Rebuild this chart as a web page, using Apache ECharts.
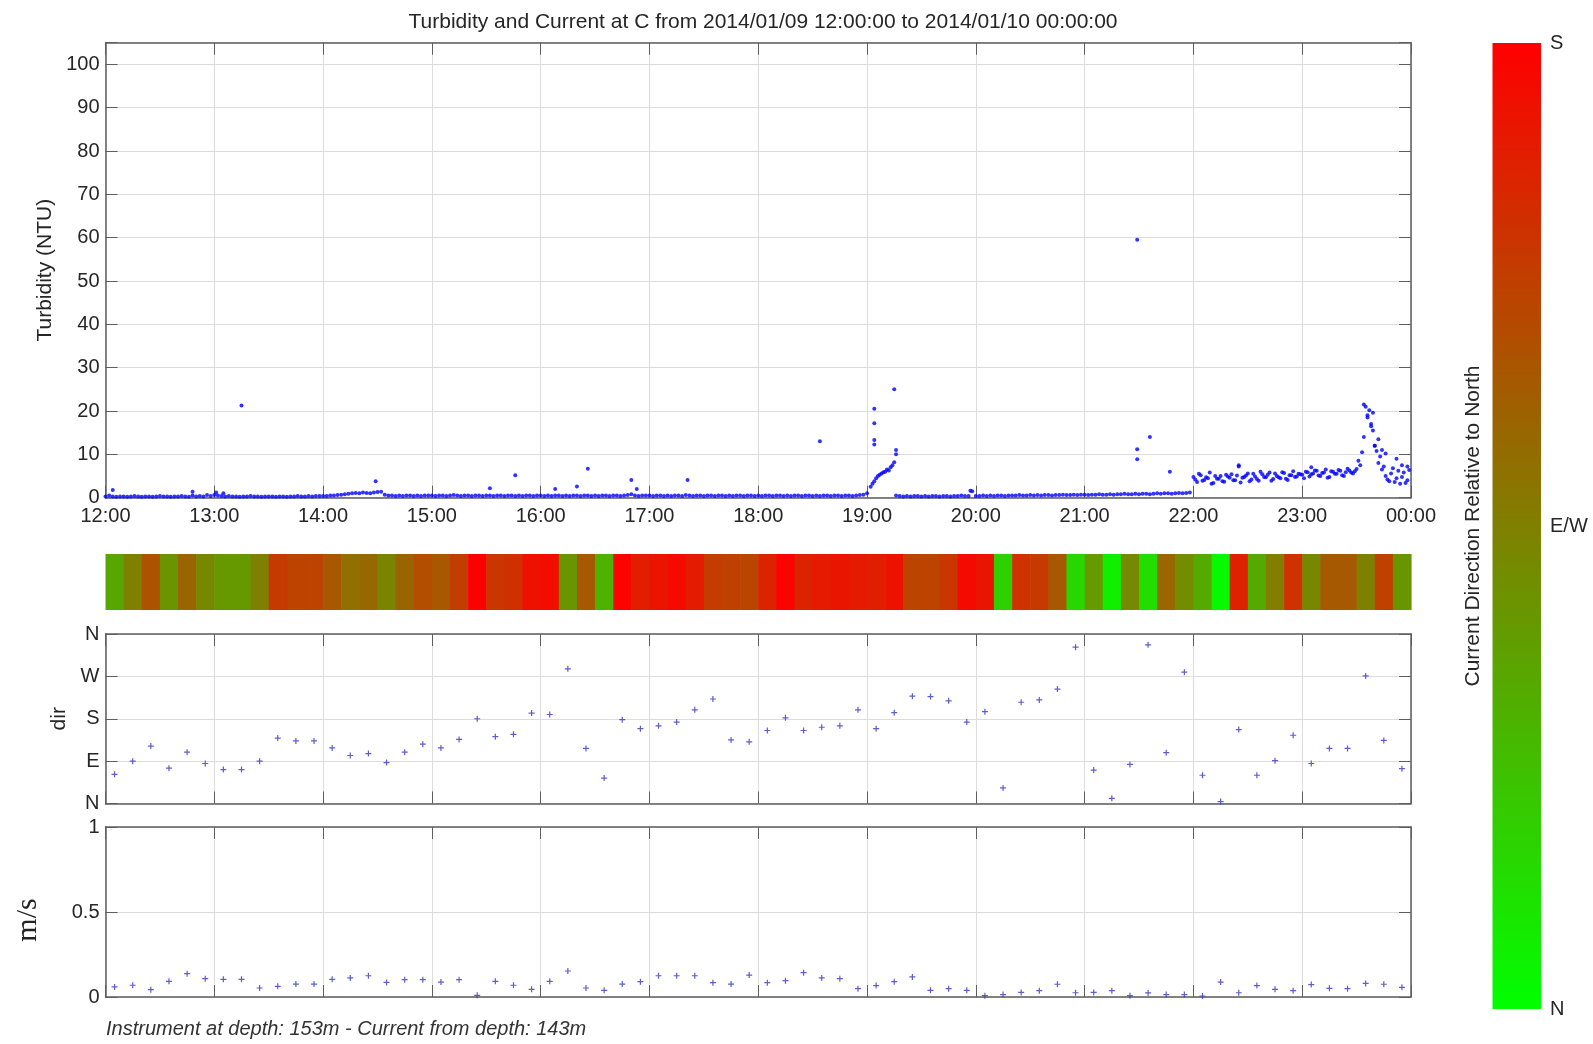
<!DOCTYPE html>
<html>
<head>
<meta charset="utf-8">
<script src="https://cdn.jsdelivr.net/npm/echarts@6/dist/echarts.min.js"></script>
<style>
html,body{margin:0;padding:0;background:#fff;}
#chart{width:1593px;height:1044px;}
</style>
</head>
<body>
<div id="chart"></div>
<script>
// ---------------- DATA ----------------
const titleText = 'Turbidity and Current at C from 2014/01/09 12:00:00 to 2014/01/10 00:00:00';
const footerText = 'Instrument at depth: 153m - Current from depth: 143m';
const hourLabels = ['12:00','13:00','14:00','15:00','16:00','17:00','18:00','19:00','20:00','21:00','22:00','23:00','00:00'];
const dirTickLabels = ['N','E','S','W','N'];
const colorbarLabels = ['N','E/W','S'];

// Turbidity (NTU), every 2 minutes from 12:00
const turbBase = [
 0.3,0.5,0.3,0.2,0.3,0.3,0.2,0.3,0.4,0.3, 0.2,0.3,0.3,0.2,0.3,0.4,0.3,0.3,0.2,0.3, 0.3,0.4,0.3,0.2,0.5,0.3,0.4,0.3,0.6,0.4,
 0.6,0.5,0.4,0.3,0.4,0.3,0.3,0.2,0.3,0.3, 0.4,0.3,0.3,0.2,0.3,0.3,0.3,0.2,0.3,0.3, 0.2,0.3,0.3,0.4,0.3,0.3,0.4,0.3,0.4,0.4,
 0.4,0.4,0.5,0.5,0.6,0.7,0.8,0.9,1.0,1.1, 1.0,1.2,1.1,1.0,1.2,1.3,1.4,0.7,0.5,0.5, 0.4,0.5,0.4,0.5,0.5,0.4,0.5,0.4,0.5,0.5,
 0.5,0.4,0.5,0.5,0.4,0.5,0.6,0.5,0.4,0.5, 0.5,0.4,0.5,0.5,0.4,0.5,0.5,0.4,0.5,0.5, 0.4,0.5,0.5,0.4,0.5,0.4,0.5,0.5,0.4,0.5,
 0.5,0.4,0.5,0.4,0.5,0.5,0.4,0.5,0.4,0.5, 0.5,0.4,0.5,0.5,0.4,0.5,0.4,0.5,0.5,0.4, 0.5,0.5,0.4,0.5,0.6,0.8,0.5,0.4,0.5,0.5,
 0.5,0.4,0.5,0.5,0.4,0.5,0.4,0.5,0.5,0.4, 0.6,0.5,0.4,0.5,0.5,0.4,0.5,0.5,0.4,0.5, 0.5,0.4,0.5,0.4,0.5,0.5,0.4,0.5,0.5,0.4,
 0.5,0.4,0.5,0.5,0.4,0.5,0.5,0.4,0.5,0.4, 0.5,0.5,0.4,0.5,0.5,0.4,0.5,0.4,0.5,0.5, 0.4,0.5,0.5,0.4,0.5,0.5,0.4,0.5,0.6,0.7,
 1.0,2.5,3.8,5.0,5.6,6.0,6.3,7.5,0.5,0.4, 0.3,0.4,0.3,0.4,0.4,0.3,0.4,0.3,0.4,0.4, 0.3,0.4,0.4,0.3,0.4,0.4,0.5,0.4,0.4,1.5,
 0.4,0.4,0.5,0.4,0.5,0.4,0.5,0.5,0.4,0.5, 0.5,0.5,0.6,0.5,0.5,0.6,0.5,0.6,0.5,0.6, 0.6,0.5,0.6,0.6,0.7,0.6,0.6,0.7,0.6,0.7,
 0.7,0.6,0.7,0.7,0.8,0.7,0.7,0.8,0.7,0.8, 0.8,0.9,0.8,0.8,0.9,0.8,0.9,0.9,0.8,0.9, 1.0,0.9,1.0,1.0,0.9,1.0,1.1,1.0,1.1,1.2,
 4.8,3.6,5.2,4.1,4.5,3.2,5.0,4.4,3.8,5.3, 4.6,4.0,5.1,3.5,4.8,5.6,4.2,4.9,3.9,5.4, 4.7,5.8,4.3,5.0,4.5,5.7,4.1,5.2,4.8,5.5,
 5.3,6.0,4.9,5.6,6.2,5.0,5.8,4.6,6.1,5.5, 6.4,5.2,5.9,6.3,5.6,6.6,7.5,14.0,19.0,17.0, 12.0,8.0,6.5,5.0,3.8,6.8,4.5,3.2,5.8,4.0
];
// Turbidity on the odd minutes from 22:01 to 23:59
const turbExtra = [
 4.2,5.5,3.9,4.7,5.8,3.4,4.4,5.0,3.7,4.9, 5.4,4.0,7.2,4.6,5.1,3.8,5.5,4.3,6.0,4.8, 5.3,3.9,5.6,4.7,5.9,4.4,5.2,6.1,4.9,5.4,
 4.5,5.9,5.4,6.3,5.1,5.7,6.5,4.8,6.0,5.5, 6.2,5.0,6.7,5.8,6.1,8.5,10.5,21.0,20.2,15.5, 10.8,9.5,7.2,4.2,5.6,3.6,6.2,4.8,3.4,6.4
];
// Isolated turbidity readings
const turbOutliers = [
 ['12:04',1.8],['12:48',1.4],['13:01',1.2],['13:05',1.0],['13:15',21.3],['14:29',3.8],['15:32',2.2],['15:46',5.2],
 ['16:08',2.0],['16:20',2.6],['16:26',6.7],['16:50',4.1],['16:53',2.0],['17:21',4.1],['18:34',13.0],
 ['19:03',3.2],['19:05',4.5],['19:07',5.3],['19:09',5.9],['19:11',6.5],['19:13',7.0],['19:15',8.2],
 ['19:04',20.5],['19:04',17.2],['19:04',13.3],['19:04',12.3],['19:15',25.0],['19:16',11.0],['19:16',10.0],['19:57',1.6],
 ['21:29',59.5],['21:29',11.2],['21:29',8.9],['21:36',14.0],['21:47',6.0],['22:25',7.5],['23:05',7.0],
 ['23:34',21.5],['23:36',18.5],['23:38',16.5],['23:39',19.6],['23:40',12.0],['23:42',13.5],['23:44',11.0],
 ['23:46',10.2],['23:52',9.0],['23:55',7.5],['23:58',7.2]
];

// 10-minute current samples
const sampleTimes = [
 '12:05','12:15','12:25','12:35','12:45','12:55','13:05','13:15','13:25','13:35','13:45','13:55',
 '14:05','14:15','14:25','14:35','14:45','14:55','15:05','15:15','15:25','15:35','15:45','15:55',
 '16:05','16:15','16:25','16:35','16:45','16:55','17:05','17:15','17:25','17:35','17:45','17:55',
 '18:05','18:15','18:25','18:35','18:45','18:55','19:05','19:15','19:25','19:35','19:45','19:55',
 '20:05','20:15','20:25','20:35','20:45','20:55','21:05','21:15','21:25','21:35','21:45','21:55',
 '22:05','22:15','22:25','22:35','22:45','22:55','23:05','23:15','23:25','23:35','23:45','23:55'
];
// Current direction, degrees from North
const dirValues = [
 62,90,122,75,109,85,72,72,90,139, 133,133,118,102,106,87,109,126,118,136,
 180,142,147,192,189,286,117,54,178,159, 165,173,199,222,135,131,155,182,155,162,
 165,199,159,193,228,227,218,173,195,33, 215,220,243,332,71,11,83,337,108,279,
 60,4,157,60,91,145,85,117,117,271,134,74
];
// Current speed, m/s
const speedValues = [
 0.059,0.069,0.043,0.092,0.137,0.108,0.104,0.104,0.053,0.063,
 0.076,0.076,0.104,0.112,0.125,0.086,0.102,0.102,0.088,0.102,
 0.010,0.092,0.069,0.045,0.092,0.153,0.053,0.039,0.076,0.090,
 0.125,0.125,0.125,0.084,0.076,0.129,0.084,0.096,0.143,0.112,
 0.108,0.049,0.067,0.090,0.118,0.039,0.049,0.039,0.008,0.014,
 0.027,0.037,0.075,0.025,0.027,0.037,0.008,0.024,0.014,0.014,
 0.006,0.088,0.025,0.067,0.045,0.037,0.073,0.051,0.049,0.080,
 0.075,0.057
];

// ---------------- BUILD ----------------
const toH = s => { const p = s.split(':'); return +p[0] + (+p[1]) / 60; };
const turbBaseData = turbBase.map((v, i) => [12 + i * 2 / 60, v]);
const turbExtraData = turbExtra.map((v, i) => [22 + (1 + 2 * i) / 60, v]);
const turbOutData = turbOutliers.map(d => [toH(d[0]), d[1]]);
const sampleH = sampleTimes.map(toH);
const dirData = dirValues.map((v, i) => [sampleH[i], v]);
const speedData = speedValues.map((v, i) => [sampleH[i], v]);
const stripData = dirValues.map((v, i) => [sampleH[i], 0.5, v <= 180 ? v : 360 - v]);

const FONT = '"Liberation Sans", Arial, Helvetica, sans-serif';
const TXT = '#262626';
const FRAME = '#5e5e5e';
const GRIDC = '#dcdcdc';
const L = 105.5, W = 1305.5;

function xAx(gridIndex, position, extra) {
  return Object.assign({
    type: 'value', gridIndex: gridIndex, position: position, min: 12, max: 24, interval: 1,
    axisLine: { show: true, onZero: false, lineStyle: { color: FRAME, width: 1.5 } },
    axisTick: { show: true, inside: true, length: 12, lineStyle: { color: FRAME, width: 1 } },
    axisLabel: { show: false },
    splitLine: { show: false }
  }, extra || {});
}
function yAx(gridIndex, position, min, max, interval, extra) {
  return Object.assign({
    type: 'value', gridIndex: gridIndex, position: position, min: min, max: max, interval: interval,
    axisLine: { show: true, onZero: false, lineStyle: { color: FRAME, width: 1.5 } },
    axisTick: { show: true, inside: true, length: 12, lineStyle: { color: FRAME, width: 1 } },
    axisLabel: { show: false },
    splitLine: { show: false }
  }, extra || {});
}
const lab = (fmt, margin) => ({ show: true, formatter: fmt, color: TXT, fontSize: 20, fontFamily: FONT, margin: margin });
const split = { show: true, lineStyle: { color: GRIDC, width: 1 } };
const nameStyle = { color: TXT, fontSize: 21, fontFamily: FONT };

const plusSym = 'path://M2,0H3V2H5V3H3V5H2V3H0V2H2Z';

const option = {
  backgroundColor: '#ffffff',
  animation: false,
  title: {
    text: titleText, left: 758, top: 7, textAlign: 'center',
    textStyle: { fontSize: 21, fontWeight: 'normal', color: TXT, fontFamily: FONT }
  },
  grid: [
    { left: L, top: 42.7, width: W, height: 455 },
    { left: L, top: 554, width: W, height: 56 },
    { left: L, top: 634, width: W, height: 169.5 },
    { left: L, top: 827, width: W, height: 170 },
    { left: 1492.5, top: 43, width: 48.5, height: 966 }
  ],
  xAxis: [
    xAx(0, 'bottom', { axisLabel: lab(v => hourLabels[Math.round(v - 12)], 9), splitLine: split }),
    xAx(0, 'top'),
    xAx(1, 'bottom', { show: false }),
    xAx(2, 'bottom', { splitLine: split }),
    xAx(2, 'top'),
    xAx(3, 'bottom', { splitLine: split }),
    xAx(3, 'top'),
    { type: 'category', gridIndex: 4, data: [''], show: false, boundaryGap: true }
  ],
  yAxis: [
    yAx(0, 'left', 0, 105, 10, {
      axisLabel: lab(v => (Math.abs(v % 10) < 1e-9 ? String(v) : ''), 6),
      splitLine: split,
      name: 'Turbidity (NTU)', nameLocation: 'middle', nameRotate: 90, nameGap: 50, nameTextStyle: nameStyle
    }),
    yAx(0, 'right', 0, 105, 10),
    yAx(1, 'left', 0, 1, 1, { show: false }),
    yAx(2, 'left', 0, 360, 90, {
      axisLabel: lab(v => dirTickLabels[Math.round(v / 90)], 6),
      splitLine: split,
      name: 'dir', nameLocation: 'middle', nameRotate: 90, nameGap: 35, nameTextStyle: nameStyle
    }),
    yAx(2, 'right', 0, 360, 90),
    yAx(3, 'left', 0, 1, 0.5, {
      axisLabel: lab(v => String(v), 6),
      splitLine: split
    }),
    yAx(3, 'right', 0, 1, 0.5),
    {
      type: 'value', gridIndex: 4, position: 'right', min: 0, max: 180, interval: 90,
      axisLine: { show: false }, axisTick: { show: false }, splitLine: { show: false },
      axisLabel: lab(v => colorbarLabels[Math.round(v / 90)], 9)
    },
    {
      type: 'value', gridIndex: 4, position: 'left', min: 0, max: 180,
      axisLine: { show: false }, axisTick: { show: false }, splitLine: { show: false }, axisLabel: { show: false },
      name: 'Current Direction Relative to North', nameLocation: 'middle', nameRotate: 90, nameGap: 9,
      nameTextStyle: nameStyle
    }
  ],
  visualMap: [{
    type: 'continuous', show: false, seriesIndex: 3, dimension: 2, min: 0, max: 180,
    inRange: { color: ['#00ff00', '#ff0000'] }
  }],
  series: [
    { type: 'scatter', xAxisIndex: 0, yAxisIndex: 0, data: turbBaseData, symbol: 'circle', symbolSize: 4,
      itemStyle: { color: '#0000ff' }, silent: true },
    { type: 'scatter', xAxisIndex: 0, yAxisIndex: 0, data: turbExtraData, symbol: 'circle', symbolSize: 4,
      itemStyle: { color: '#0000ff' }, silent: true },
    { type: 'scatter', xAxisIndex: 0, yAxisIndex: 0, data: turbOutData, symbol: 'circle', symbolSize: 4,
      itemStyle: { color: '#0000ff' }, silent: true },
    { type: 'custom', xAxisIndex: 2, yAxisIndex: 2, data: stripData, silent: true,
      encode: { x: 0, y: 1 },
      renderItem: function (params, api) {
        const t = api.value(0);
        const p0 = api.coord([t - 5 / 60, 1]);
        const p1 = api.coord([t + 5 / 60, 0]);
        return { type: 'rect', shape: { x: p0[0], y: p0[1], width: p1[0] - p0[0] + 0.6, height: p1[1] - p0[1] },
                 style: { fill: api.visual('color') } };
      }
    },
    { type: 'scatter', xAxisIndex: 3, yAxisIndex: 3, data: dirData, symbol: plusSym, symbolSize: 6,
      itemStyle: { color: '#3434c4' }, silent: true },
    { type: 'scatter', xAxisIndex: 5, yAxisIndex: 5, data: speedData, symbol: plusSym, symbolSize: 6,
      itemStyle: { color: '#3434c4' }, silent: true },
    { type: 'bar', xAxisIndex: 7, yAxisIndex: 7, data: [180], barWidth: '100%', silent: true,
      itemStyle: { color: new echarts.graphic.LinearGradient(0, 0, 0, 1, [
        { offset: 0, color: '#ff0000' }, { offset: 1, color: '#00ff00' }]) } }
  ],
  graphic: [
    { type: 'text', x: 106, y: 1029, silent: true,
      style: { text: footerText, font: 'italic 20px "Liberation Sans", Arial, sans-serif', fill: '#333',
               textAlign: 'left', textVerticalAlign: 'middle' } },
    { type: 'text', x: 28, y: 920, rotation: Math.PI / 2, silent: true,
      style: { text: 'm/s', font: '30px "Liberation Serif", "DejaVu Serif", serif', fill: '#222',
               textAlign: 'center', textVerticalAlign: 'middle' } }
  ]
};

const chart = echarts.init(document.getElementById('chart'), null, { renderer: 'canvas' });
chart.setOption(option);
</script>
</body>
</html>
